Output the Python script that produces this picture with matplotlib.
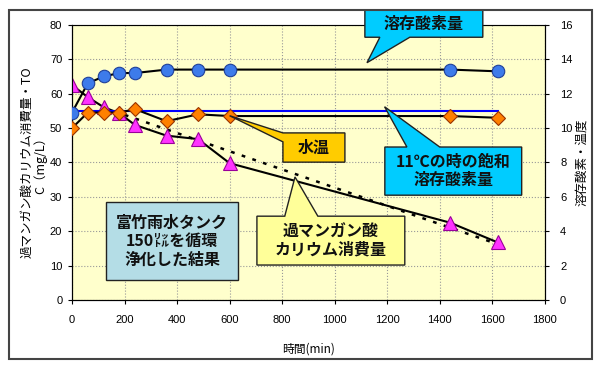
import numpy as np
import matplotlib
matplotlib.use("Agg")
import matplotlib.pyplot as plt
from matplotlib.patches import Polygon, Rectangle

plt.rcParams['font.family'] = ['Noto Sans CJK JP', 'DejaVu Sans']

# time (min)
minutes = [0, 60, 120, 180, 240, 360, 480, 600, 1440, 1620]
# dissolved oxygen (right axis, mg/L)
oxygen = [10.9, 12.6, 13.0, 13.2, 13.2, 13.4, 13.4, 13.4, 13.4, 13.3]
# water temperature (right axis, deg C)
water_temp = [10.0, 10.9, 10.9, 10.9, 11.1, 10.4, 10.8, 10.7, 10.7, 10.6]
# KMnO4 consumption / TOC (left axis, mg/L)
kmno4 = [62.5, 59.0, 56.1, 54.3, 50.9, 47.8, 46.8, 39.8, 22.5, 16.8]
# saturated DO at 11 deg C
sat_do = 11.0

tick_font = ['Liberation Sans Narrow', 'Liberation Sans']


def callout(ax, box, base, tip, side, color, text, fs=11.5):
    x0, y0, x1, y1 = box
    ba, bb = base
    if side == 'top':
        pts = [(x0, y1), (ba, y1), tip, (bb, y1), (x1, y1), (x1, y0), (x0, y0)]
    elif side == 'bottom':
        pts = [(x0, y1), (x1, y1), (x1, y0), (bb, y0), tip, (ba, y0), (x0, y0)]
    elif side == 'left':
        pts = [(x0, y1), (x1, y1), (x1, y0), (x0, y0), (x0, ba), tip, (x0, bb)]
    else:
        pts = [(x0, y1), (x1, y1), (x1, y0), (x0, y0)]
    poly = Polygon(pts, closed=True, facecolor=color, edgecolor='#222222',
                   lw=1.0, transform=ax1.transData, clip_on=False, zorder=20)
    ax.add_patch(poly)
    ax.text((x0 + x1) / 2, (y0 + y1) / 2, text, transform=ax1.transData,
            ha='center', va='center', fontsize=fs, fontweight='bold',
            color='#111111', zorder=21, linespacing=1.2)


fig = plt.figure(figsize=(6, 3.71), dpi=100)
fig.patches.append(Rectangle((0.015, 0.032), 0.972, 0.941, transform=fig.transFigure,
                             fill=False, edgecolor='#444444', lw=1.5))

ax1 = fig.add_axes([0.12, 0.191, 0.788, 0.742])
ax1.set_facecolor('#FFFFCC')
ax1.set_xlim(0, 1800)
ax1.set_ylim(0, 80)
ax1.set_xticks(range(0, 1801, 200))
ax1.set_yticks(range(0, 81, 10))
ax1.grid(True, color='#999999', ls=':', lw=0.8)
ax1.tick_params(labelsize=8, length=3)
ax1.tick_params(axis='x', pad=8)
ax1.tick_params(axis='y', pad=4)
for lab in ax1.get_xticklabels() + ax1.get_yticklabels():
    lab.set_family(tick_font)
ax1.spines['top'].set_color('#999999')

ax1.plot(minutes, kmno4, color='black', lw=1.5, zorder=3)
ax1.plot(minutes, kmno4, ls='none', marker='^', ms=10, mfc='#FF33FF',
         mec='#990099', mew=0.8, zorder=4)
coef = np.polyfit(minutes, kmno4, 1)
trend_x = np.array([minutes[2], minutes[-1]])
ax1.plot(trend_x, np.polyval(coef, trend_x), color='black', ls=(0, (1.5, 3)),
         lw=1.8, zorder=2)

ax2 = ax1.twinx()
ax2.set_ylim(0, 16)
ax2.set_yticks(range(0, 17, 2))
ax2.tick_params(labelsize=8, length=3, pad=8)
for lab in ax2.get_yticklabels():
    lab.set_family(tick_font)
ax2.plot([minutes[0], minutes[-1]], [sat_do, sat_do], color='#0000FF', lw=1.5, zorder=2)
ax2.plot(minutes, oxygen, color='black', lw=1.5, marker='o', ms=9,
         mfc='#3D7BEA', mec='#1F3F99', mew=0.8, zorder=3)
ax2.plot(minutes, water_temp, color='black', lw=1.5, marker='D', ms=7,
         mfc='#FF8000', mec='#993300', mew=0.8, zorder=4)

ax1.set_xlabel('時間(min)', fontsize=8.5, labelpad=12)
ax1.set_ylabel('過マンガン酸カリウム消費量・TO\nC（mg/L）', fontsize=9,
               linespacing=1.0)
ax1.yaxis.set_label_coords(-0.052, 0.5)
ax2.set_ylabel('溶存酸素・温度', fontsize=9)
ax2.yaxis.set_label_coords(1.066, 0.5)

callout(ax2, (1115, 76.4, 1564, 84.4), (1172, 1286), (1123, 69), 'bottom',
        '#00CCFF', '溶存酸素量')
callout(ax2, (803, 40.1, 1039, 48.6), (46.0, 48.6), (600, 53.6), 'left',
        '#FFCC00', '水温')
callout(ax2, (1191, 30.5, 1712, 44.5), (1275, 1400), (1190, 56.2), 'top',
        '#00CCFF', '11℃の時の飽和\n溶存酸素量')
callout(ax2, (704, 10.2, 1267, 24.4), (810, 936), (849, 35.8), 'top',
        '#FFFF99', '過マンガン酸\nカリウム消費量')
callout(ax2, (129, 5.8, 632, 28.5), (0, 0), (0, 0), 'none',
        '#B4DDE6', '富竹雨水タンク\n150㍑を循環\n浄化した結果')

fig.savefig('out.png', dpi=100)
